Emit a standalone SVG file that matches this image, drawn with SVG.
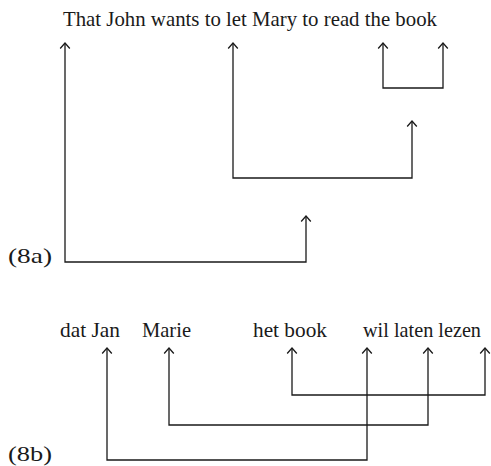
<svg xmlns="http://www.w3.org/2000/svg" width="491" height="466" viewBox="0 0 491 466">
<style>
text{font-family:"Liberation Serif","Times New Roman",serif;font-size:21px;fill:#1a1a1a}
.lb{font-size:22px}
.c{fill:none;stroke:#1a1a1a;stroke-width:1.3;marker-start:url(#h);marker-end:url(#h)}
</style>
<defs>
<marker id="h" markerUnits="userSpaceOnUse" orient="auto-start-reverse" refX="0" refY="0" markerWidth="12" markerHeight="12" viewBox="-6 -6 12 12" overflow="visible">
<path d="M-5.5 -4.8 L0 0 L-5.5 4.8" fill="none" stroke="#1a1a1a" stroke-width="1.3"/>
</marker>
</defs>
<g id="sentence-a"><text x="63" y="26" textLength="374" lengthAdjust="spacingAndGlyphs">That John wants to let Mary to read the book</text></g>
<g id="label-a"><text class="lb" x="8" y="263" textLength="44" lengthAdjust="spacingAndGlyphs">(8a)</text></g>
<g id="w-dat-jan"><text x="60" y="337" textLength="60" lengthAdjust="spacingAndGlyphs">dat Jan</text></g>
<g id="w-marie"><text x="142" y="337" textLength="49" lengthAdjust="spacingAndGlyphs">Marie</text></g>
<g id="w-het-book"><text x="253" y="337" textLength="74" lengthAdjust="spacingAndGlyphs">het book</text></g>
<g id="w-verbs"><text x="363" y="337" textLength="118" lengthAdjust="spacingAndGlyphs">wil laten lezen</text></g>
<g id="label-b"><text class="lb" x="8" y="461" textLength="44" lengthAdjust="spacingAndGlyphs">(8b)</text></g>
<g id="connectors">
<path class="c" d="M65 43 V262 H306 V216"/>
<path class="c" d="M233 43 V178 H412 V121"/>
<path class="c" d="M383 43 V88 H443 V43"/>
<path class="c" d="M107 348 V460 H367 V348"/>
<path class="c" d="M169 348 V425 H428 V348"/>
<path class="c" d="M292 348 V395 H485 V348"/>
</g>
</svg>
